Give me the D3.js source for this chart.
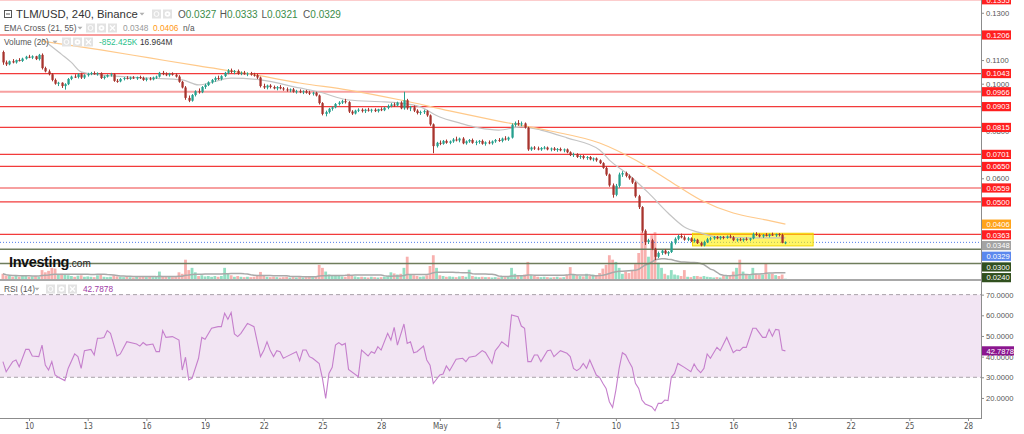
<!DOCTYPE html>
<html lang="en">
<head>
<meta charset="UTF-8" />
<title>TLM/USD, 240, Binance</title>
<script src="https://d3js.org/d3.v7.min.js"></script>
<style>
  body { margin: 0; background: #fff; }
  svg { display: block; font-family: 'Liberation Sans', Arial, sans-serif; }
</style>
</head>
<body>
<svg id="chart" width="1024" height="434"></svg>
<script>
// ---- data ----
const startTime = Date.UTC(2021, 3, 8, 16);   // first 4h bar
const barHours = 4;

// [open, high, low, close]
const candles = [
  [.1134,.1140,.1080,.1090],[.1090,.1098,.1075,.1082],[.1082,.1098,.1078,.1095],[.1095,.1104,.1086,.1090],
  [.1090,.1102,.1085,.1100],[.1100,.1108,.1094,.1096],[.1096,.1110,.1092,.1106],[.1106,.1118,.1102,.1114],
  [.1114,.1122,.1108,.1110],[.1110,.1120,.1104,.1116],[.1116,.1118,.1100,.1104],[.1104,.1126,.1098,.1122],
  [.1122,.1128,.1060,.1066],[.1066,.1072,.1048,.1052],[.1052,.1060,.1035,.1040],[.1040,.1045,.1010,.1016],
  [.1016,.1022,.0996,.1000],[.1000,.1008,.0990,.1004],[.1004,.1006,.0982,.0990],[.0990,.1002,.0975,.0998],
  [.0998,.1024,.0994,.1020],[.1020,.1034,.1015,.1030],[.1030,.1040,.1024,.1028],[.1028,.1044,.1022,.1040],
  [.1040,.1046,.1020,.1026],[.1026,.1040,.1020,.1036],[.1036,.1046,.1030,.1042],[.1042,.1050,.1036,.1045],
  [.1045,.1052,.1038,.1040],[.1040,.1048,.1034,.1044],[.1044,.1048,.1020,.1024],[.1024,.1034,.1018,.1030],
  [.1030,.1040,.1026,.1036],[.1036,.1046,.1030,.1040],[.1040,.1044,.1008,.1012],[.1012,.1020,.1004,.1010],
  [.1010,.1024,.1006,.1020],[.1020,.1028,.1014,.1024],[.1024,.1032,.1018,.1020],[.1020,.1030,.1016,.1026],
  [.1026,.1032,.1020,.1022],[.1022,.1030,.1016,.1028],[.1028,.1034,.1020,.1024],[.1024,.1030,.1012,.1016],
  [.1016,.1026,.1010,.1022],[.1022,.1028,.1014,.1018],[.1018,.1030,.1014,.1026],[.1026,.1034,.1020,.1030],
  [.1030,.1050,.1026,.1046],[.1046,.1054,.1036,.1040],[.1040,.1048,.1032,.1036],[.1036,.1046,.1030,.1042],
  [.1042,.1048,.1034,.1038],[.1038,.1044,.1026,.1030],[.1030,.1036,.1004,.1008],[.1008,.1012,.0980,.0984],
  [.0984,.0990,.0932,.0940],[.0940,.0950,.0922,.0928],[.0928,.0956,.0924,.0952],[.0952,.0972,.0946,.0968],
  [.0968,.0980,.0958,.0964],[.0964,.0990,.0960,.0986],[.0986,.1000,.0978,.0994],[.0994,.1010,.0990,.1006],
  [.1006,.1020,.1000,.1016],[.1016,.1030,.1008,.1024],[.1024,.1034,.1016,.1020],[.1020,.1036,.1014,.1032],
  [.1032,.1050,.1028,.1046],[.1046,.1062,.1040,.1056],[.1056,.1064,.1044,.1050],[.1050,.1058,.1040,.1054],
  [.1054,.1060,.1038,.1042],[.1042,.1052,.1036,.1046],[.1046,.1054,.1038,.1040],[.1040,.1048,.1032,.1044],
  [.1044,.1050,.1034,.1038],[.1038,.1046,.1030,.1036],[.1036,.1042,.1020,.1026],[.1026,.1030,.0984,.0990],
  [.0990,.1000,.0978,.0984],[.0984,.0996,.0976,.0992],[.0992,.0998,.0980,.0986],[.0986,.0992,.0976,.0980],
  [.0980,.0990,.0972,.0986],[.0986,.0994,.0976,.0980],[.0980,.0986,.0970,.0976],[.0976,.0984,.0966,.0972],
  [.0972,.0980,.0964,.0976],[.0976,.0982,.0962,.0966],[.0966,.0974,.0958,.0968],[.0968,.0976,.0960,.0964],
  [.0964,.0972,.0956,.0968],[.0968,.0974,.0958,.0962],[.0962,.0970,.0952,.0958],[.0958,.0966,.0950,.0962],
  [.0962,.0966,.0946,.0950],[.0950,.0954,.0912,.0918],[.0918,.0922,.0866,.0872],[.0872,.0886,.0862,.0880],
  [.0880,.0898,.0874,.0894],[.0894,.0904,.0886,.0900],[.0900,.0918,.0896,.0914],[.0914,.0926,.0908,.0920],
  [.0920,.0932,.0914,.0926],[.0926,.0936,.0916,.0922],[.0922,.0926,.0876,.0882],[.0882,.0888,.0868,.0874],
  [.0874,.0890,.0870,.0886],[.0886,.0896,.0880,.0890],[.0890,.0896,.0878,.0884],[.0884,.0894,.0876,.0890],
  [.0890,.0898,.0882,.0886],[.0886,.0894,.0878,.0890],[.0890,.0896,.0880,.0884],[.0884,.0894,.0878,.0892],
  [.0892,.0900,.0884,.0888],[.0888,.0902,.0884,.0898],[.0898,.0912,.0892,.0906],[.0906,.0918,.0900,.0912],
  [.0912,.0920,.0902,.0908],[.0908,.0924,.0904,.0920],[.0920,.0926,.0892,.0896],[.0896,.0966,.0890,.0930],
  [.0930,.0936,.0890,.0896],[.0896,.0906,.0884,.0900],[.0900,.0908,.0880,.0886],[.0886,.0892,.0870,.0876],
  [.0876,.0886,.0868,.0880],[.0880,.0890,.0872,.0884],[.0884,.0888,.0860,.0866],[.0866,.0870,.0822,.0828],
  [.0828,.0832,.0706,.0736],[.0736,.0754,.0730,.0750],[.0750,.0760,.0740,.0746],[.0746,.0762,.0742,.0758],
  [.0758,.0764,.0746,.0750],[.0750,.0760,.0744,.0756],[.0756,.0770,.0750,.0764],[.0764,.0776,.0756,.0760],
  [.0760,.0772,.0752,.0768],[.0768,.0774,.0744,.0748],[.0748,.0760,.0742,.0756],[.0756,.0766,.0750,.0762],
  [.0762,.0768,.0746,.0750],[.0750,.0760,.0740,.0754],[.0754,.0762,.0746,.0758],[.0758,.0764,.0742,.0746],
  [.0746,.0756,.0738,.0752],[.0752,.0760,.0744,.0748],[.0748,.0760,.0742,.0756],[.0756,.0766,.0750,.0762],
  [.0762,.0770,.0754,.0758],[.0758,.0772,.0752,.0768],[.0768,.0778,.0760,.0764],[.0764,.0776,.0758,.0772],
  [.0772,.0832,.0768,.0826],[.0826,.0840,.0818,.0834],[.0834,.0846,.0822,.0828],[.0828,.0840,.0820,.0832],
  [.0832,.0836,.0810,.0814],[.0814,.0818,.0716,.0722],[.0722,.0734,.0716,.0730],[.0730,.0736,.0720,.0726],
  [.0726,.0734,.0718,.0722],[.0722,.0732,.0716,.0728],[.0728,.0736,.0722,.0730],[.0730,.0734,.0718,.0722],
  [.0722,.0730,.0714,.0726],[.0726,.0732,.0716,.0720],[.0720,.0728,.0712,.0724],[.0724,.0730,.0714,.0718],
  [.0718,.0726,.0710,.0722],[.0722,.0726,.0706,.0710],[.0710,.0714,.0694,.0698],[.0698,.0708,.0690,.0702],
  [.0702,.0706,.0686,.0690],[.0690,.0698,.0682,.0694],[.0694,.0698,.0680,.0686],[.0686,.0694,.0678,.0690],
  [.0690,.0694,.0676,.0680],[.0680,.0688,.0672,.0684],[.0684,.0688,.0670,.0676],[.0676,.0680,.0660,.0664],
  [.0664,.0668,.0640,.0644],[.0644,.0650,.0610,.0616],[.0616,.0620,.0564,.0570],[.0570,.0578,.0518,.0530],
  [.0530,.0576,.0524,.0568],[.0568,.0624,.0560,.0616],[.0616,.0630,.0606,.0622],[.0622,.0628,.0604,.0610],
  [.0610,.0616,.0594,.0600],[.0600,.0604,.0576,.0582],[.0582,.0586,.0518,.0524],[.0524,.0530,.0470,.0478],
  [.0478,.0482,.0370,.0378],[.0378,.0384,.0318,.0330],[.0330,.0344,.0322,.0338],[.0338,.0344,.0296,.0302],
  [.0302,.0306,.0254,.0268],[.0268,.0290,.0262,.0284],[.0284,.0298,.0276,.0294],[.0294,.0300,.0278,.0282],
  [.0282,.0292,.0272,.0288],[.0288,.0334,.0284,.0326],[.0326,.0350,.0320,.0344],[.0344,.0362,.0338,.0356],
  [.0356,.0366,.0346,.0350],[.0350,.0358,.0336,.0340],[.0340,.0352,.0334,.0346],[.0346,.0350,.0330,.0334],
  [.0334,.0346,.0328,.0340],[.0340,.0344,.0322,.0326],[.0326,.0332,.0312,.0316],[.0316,.0336,.0312,.0330],
  [.0330,.0348,.0326,.0342],[.0342,.0352,.0336,.0346],[.0346,.0356,.0340,.0352],[.0352,.0356,.0342,.0346],
  [.0346,.0356,.0340,.0352],[.0352,.0356,.0342,.0348],[.0348,.0358,.0344,.0354],[.0354,.0362,.0346,.0350],
  [.0350,.0356,.0334,.0338],[.0338,.0346,.0332,.0342],[.0342,.0348,.0334,.0338],[.0338,.0346,.0332,.0344],
  [.0344,.0350,.0336,.0340],[.0340,.0348,.0334,.0346],[.0346,.0370,.0342,.0364],[.0364,.0372,.0356,.0360],
  [.0360,.0366,.0350,.0354],[.0354,.0364,.0348,.0360],[.0360,.0368,.0354,.0356],[.0356,.0366,.0350,.0362],
  [.0362,.0370,.0356,.0358],[.0358,.0366,.0352,.0364],[.0364,.0368,.0354,.0360],[.0360,.0366,.0325,.0327],
  [.0327,.0333,.0321,.0329]
];

// volume per bar, millions
const volumes = [
  14,9,8,6,9,6,8,10,6,7,8,6,24,
  18,22,30,28,12,14,12,10,8,6,9,
  10,6,7,6,5,10,12,6,5,6,10,7,6,
  5,6,5,4,6,5,8,5,6,5,6,20,
  8,6,6,5,8,18,14,52,24,30,18,8,
  10,7,8,6,8,6,8,30,16,10,6,8,
  6,5,6,5,6,8,19,10,6,5,6,5,4,5,6,4,5,4,
  5,4,5,6,5,8,38,30,20,12,8,
  10,8,7,6,14,9,7,5,6,5,4,6,5,4,5,
  6,8,18,15,12,14,30,60,12,10,8,6,7,
  10,35,64,30,10,8,6,7,6,5,7,8,6,25,8,6,5,6,5,5,
  4,5,4,6,5,8,30,14,10,8,12,46,
  10,8,6,5,6,5,4,5,6,4,5,12,32,12,10,8,7,14,8,12,9,16,
  28,38,64,52,46,30,14,20,16,22,40,70,128,124,60,118,126,44,30,14,10,
  24,12,10,8,24,6,5,8,8,6,8,6,5,4,5,4,8,8,10,20,30,52,20,12,10,30,14,12,12,42,14,14,10.43,8,12,0.852425
];
const volumeMaLength = 20;

// EMA lines: [bar index, price]
const ema21Points = [
  [12,.1190],[14,.1168],[18,.1124],[21,.1090],[24,.1050],[30,.1037],[45,.1024],[55,.1016],[60,.0995],
  [70,.1024],[79,.1016],[91,.0982],[97,.0965],[106,.0931],[117,.0923],[122,.0918],[128,.0902],
  [134,.0859],[140,.0834],[146,.0813],[152,.0804],[159,.0817],[165,.0804],[173,.0771],[183,.0720],
  [186,.0677],[192,.0614],[198,.0538],[204,.0453],[209,.0394],[214,.0369],[219,.0352],[229,.0348],[240,.0348]
];
const ema55Points = [
  [12,.1180],[14,.1176],[30,.1143],[45,.1109],[60,.1075],[76,.1041],[91,.1003],[106,.0973],[122,.0931],
  [137,.0885],[152,.0842],[168,.0800],[183,.0749],[194,.0677],[204,.0593],[214,.0508],[224,.0453],
  [234,.0424],[240,.0406]
];

// RSI(14): [bar index, value]
const rsiPoints = [
  [0,37.6],[1,32.7],[3,37.6],[4,38.4],[5,35.1],[7,43.5],[8,43.5],[9,40.3],[11,40],[12,45.6],[13,35.9],
  [14,33.5],[15,37.6],[16,31.1],[17,30],[19,28.4],[20,34.3],[22,41.3],[23,40],[24,34.3],[25,42.9],
  [27,43.5],[28,40.8],[29,48.9],[30,48.9],[31,49.3],[32,52.6],[33,51.3],[35,40.3],[36,41.3],[38,47.2],
  [41,46.1],[42,45.1],[43,46.8],[44,45.6],[46,46.1],[47,42.4],[48,42.4],[49,52.6],[50,49.3],[52,49.7],
  [54,48],[55,33.5],[56,39.7],[57,28.7],[58,29.5],[60,39.2],[61,49.3],[62,48.4],[64,53.7],[66,54.5],
  [67,54.5],[68,61],[69,58.1],[70,61.3],[71,51],[72,49.7],[73,51.3],[75,56.1],[76,55.3],[77,54.5],
  [79,40],[80,42.9],[81,47.2],[82,42.9],[83,40],[84,42.9],[85,42.4],[86,39.2],[87,40],[90,42.4],[91,38],
  [92,43.2],[93,43.2],[94,40],[95,39.2],[97,36.7],[98,29.5],[99,19.8],[100,31.9],[101,34.8],[102,45.6],
  [103,46.8],[104,45.6],[105,46.4],[106,33.8],[109,30.3],[110,43.2],[112,40.3],[113,42.4],[114,41.6],
  [115,44.8],[116,43.2],[118,51.3],[119,48],[120,54.2],[121,45.6],[123,55.8],[124,46.4],[125,47.2],
  [126,41.9],[127,42.4],[129,45.1],[130,38.4],[131,35.9],[132,27],[134,31.1],[135,31.6],[136,35.5],
  [137,33.2],[139,38.7],[141,39.2],[142,37.6],[143,39.7],[145,40.3],[147,42.9],[148,42],[150,36.7],
  [151,42.9],[152,44.8],[153,47.2],[155,44.8],[156,60.2],[158,59.3],[159,54.8],[160,53.7],[161,37.6],
  [162,37.6],[163,40.8],[164,40.8],[165,37.6],[167,42.9],[168,43.2],[169,40],[171,42.9],[173,41.6],
  [174,40],[175,34.3],[176,33.2],[177,34.3],[178,36.7],[179,34.3],[180,38.4],[182,31.1],[183,30],
  [184,27.1],[185,24.6],[186,18.2],[187,15.4],[188,23.8],[189,34.3],[190,41.9],[191,40.8],[192,37.6],
  [193,34.8],[194,27.1],[195,24.6],[196,19],[197,17.1],[199,15.8],[200,13.8],[201,17.4],[202,17.4],
  [203,19],[204,18.7],[205,30],[206,31.9],[207,36.7],[209,34.8],[211,32.7],[212,36.4],[213,33.8],
  [214,32.2],[215,34.3],[216,41.3],[217,39.2],[219,44.5],[220,42.9],[222,49.3],[224,41.9],[225,43.2],
  [226,42.9],[227,44.5],[228,44.5],[230,53.7],[231,53.7],[233,49.3],[234,49.3],[235,53.2],[236,49.9],
  [237,53.2],[238,52.9],[239,43.2],[240,42.7878]
];

// horizontal levels
const redLevels = [0.1355, 0.1206, 0.1043, 0.0966, 0.0903, 0.0815, 0.0701, 0.0650, 0.0559, 0.0500, 0.0363];
const softLevels = [0.0966, 0.0559];
const supportLevels = [0.0300, 0.0240];
const ema21Last = 0.0348;
const ema55Last = 0.0406;

// consolidation box
const zoneTimes = [Date.UTC(2021, 4, 13, 22), Date.UTC(2021, 4, 20, 2)];
const zonePrices = [0.03675, 0.0314];

// price ticks that are not covered by the level tags
const priceTicks = [0.13, 0.11, 0.10, 0.08, 0.06];
const rsiTicks = [70, 60, 50, 40, 30, 20];
const rsiBand = [70, 30];

// ---- layout ----
const plotRight = 981;
const priceBottom = 279;
const rsiTop = 281, rsiBottom = 418;
const upColor = "#26a08e", downColor = "#a8342e";
const upVol = "#93dfc3", downVol = "#f8b0ae";

const svg = d3.select("#chart");
const lastClose = candles[candles.length - 1][3];
const barTime = i => new Date(startTime + i * barHours * 3600e3);

const x = d3.scaleUtc()
  .domain([new Date(Date.UTC(2021, 3, 10)), new Date(Date.UTC(2021, 4, 28))])
  .range([29, 968]);
const y = d3.scaleLinear().domain([0.0174, 0.1354]).range([priceBottom, 0]);
const yVol = d3.scaleLinear().domain([0, 140]).range([priceBottom, 227]);
const yRsi = d3.scaleLinear().domain([10.3, 76.6]).range([rsiBottom, rsiTop]);

const defs = svg.append("defs");
defs.append("clipPath").attr("id", "clipPrice")
  .append("rect").attr("x", 0).attr("y", 0).attr("width", plotRight).attr("height", priceBottom);
defs.append("clipPath").attr("id", "clipRsi")
  .append("rect").attr("x", 0).attr("y", rsiTop).attr("width", plotRight).attr("height", rsiBottom - rsiTop);

const price = svg.append("g").attr("clip-path", "url(#clipPrice)");

// volume bars
price.append("g").selectAll("rect")
  .data(volumes)
  .join("rect")
  .attr("x", (d, i) => x(barTime(i)) - 1.4)
  .attr("width", 2.8)
  .attr("y", d => yVol(d))
  .attr("height", d => priceBottom - yVol(d))
  .attr("fill", (d, i) => candles[i][3] >= candles[i][0] ? upVol : downVol);

// volume moving average
const volMa = volumes.map((d, i) => {
  const from = Math.max(0, i - volumeMaLength + 1);
  return d3.mean(volumes.slice(from, i + 1));
});
price.append("path")
  .datum(volMa)
  .attr("fill", "none")
  .attr("stroke", "#a9a9a9")
  .attr("stroke-width", 1.5)
  .attr("d", d3.line().x((d, i) => x(barTime(i))).y(d => yVol(d)));

// levels
price.append("g").selectAll("line")
  .data(redLevels)
  .join("line")
  .attr("x1", 0).attr("x2", plotRight)
  .attr("y1", d => y(d)).attr("y2", d => y(d))
  .attr("stroke", d => softLevels.includes(d) ? "#f7a0a0" : "#f23b3b")
  .attr("stroke-width", d => softLevels.includes(d) ? 2 : 1.2);

price.append("g").selectAll("line")
  .data(supportLevels)
  .join("line")
  .attr("x1", 0).attr("x2", plotRight)
  .attr("y1", d => y(d)).attr("y2", d => y(d))
  .attr("stroke", "#6f7d5c")
  .attr("stroke-width", 1.5);

price.append("line")
  .attr("x1", 0).attr("x2", plotRight)
  .attr("y1", y(lastClose)).attr("y2", y(lastClose))
  .attr("stroke", "#4f7be8")
  .attr("stroke-dasharray", "1,2");

// yellow zone
price.append("rect")
  .attr("x", x(new Date(zoneTimes[0])))
  .attr("width", x(new Date(zoneTimes[1])) - x(new Date(zoneTimes[0])))
  .attr("y", y(zonePrices[0]))
  .attr("height", y(zonePrices[1]) - y(zonePrices[0]))
  .attr("fill", "rgba(255,240,0,0.6)")
  .attr("stroke", "#f2d600")
  .attr("stroke-width", 1);

// EMA lines
const emaLine = d3.line().x(d => x(barTime(d[0]))).y(d => y(d[1])).curve(d3.curveMonotoneX);
price.append("path").datum(ema21Points)
  .attr("fill", "none").attr("stroke", "#c4c4c4").attr("stroke-width", 1.2).attr("d", emaLine);
price.append("path").datum(ema55Points)
  .attr("fill", "none").attr("stroke", "#ffc98a").attr("stroke-width", 1.2).attr("d", emaLine);

// candles
const bars = price.append("g").selectAll("g")
  .data(candles)
  .join("g");
bars.append("line")
  .attr("x1", (d, i) => Math.round(x(barTime(i))) + 0.5)
  .attr("x2", (d, i) => Math.round(x(barTime(i))) + 0.5)
  .attr("y1", d => y(d[1]))
  .attr("y2", d => y(d[2]))
  .attr("stroke", d => d[3] >= d[0] ? upColor : downColor)
  .attr("stroke-width", 1);
bars.append("rect")
  .attr("x", (d, i) => Math.round(x(barTime(i))) - 0.6)
  .attr("width", 2.3)
  .attr("y", d => y(Math.max(d[0], d[3])))
  .attr("height", d => Math.max(1, Math.abs(y(d[0]) - y(d[3]))))
  .attr("fill", d => d[3] >= d[0] ? upColor : downColor);

// investing.com mark
const logo = svg.append("text").attr("x", 9).attr("y", 267);
logo.append("tspan").text("Investing")
  .attr("font-size", 14.5).attr("font-weight", "bold").attr("fill", "#111").attr("letter-spacing", -0.4);
logo.append("tspan").text(".com").attr("font-size", 10).attr("fill", "#222");

// pane separator
svg.append("line").attr("x1", 0).attr("x2", plotRight).attr("y1", 280).attr("y2", 280)
  .attr("stroke", "#a8a8a8").attr("stroke-width", 2);

// ---- RSI pane ----
const rsi = svg.append("g").attr("clip-path", "url(#clipRsi)");
rsi.append("rect")
  .attr("x", 0).attr("width", plotRight)
  .attr("y", yRsi(rsiBand[0])).attr("height", yRsi(rsiBand[1]) - yRsi(rsiBand[0]))
  .attr("fill", "#f2e5f3");
rsi.append("g").selectAll("line")
  .data(rsiBand)
  .join("line")
  .attr("x1", 0).attr("x2", plotRight)
  .attr("y1", d => yRsi(d)).attr("y2", d => yRsi(d))
  .attr("stroke", "#a9a2a9")
  .attr("stroke-dasharray", "4,3");
rsi.append("path").datum(rsiPoints)
  .attr("fill", "none").attr("stroke", "#c57fcc").attr("stroke-width", 1.1)
  .attr("d", d3.line().x(d => x(barTime(d[0]))).y(d => yRsi(d[1])));

// ---- axes ----
svg.append("line").attr("x1", plotRight + 0.5).attr("x2", plotRight + 0.5).attr("y1", 0).attr("y2", rsiBottom)
  .attr("stroke", "#8c8c8c");
svg.append("line").attr("x1", 0).attr("x2", plotRight + 1).attr("y1", rsiBottom + 0.5).attr("y2", rsiBottom + 0.5)
  .attr("stroke", "#8c8c8c");

function styleAxis(g) {
  g.select(".domain").remove();
  g.selectAll(".tick line").attr("stroke", "#8c8c8c");
  g.selectAll(".tick text").attr("fill", "#555").attr("font-family", "'Liberation Sans', Arial, sans-serif");
}

svg.append("g")
  .attr("transform", `translate(${plotRight},0)`)
  .call(d3.axisRight(y).tickValues(priceTicks).tickFormat(d3.format(".4f")).tickSize(3).tickPadding(2))
  .call(styleAxis)
  .selectAll("text").attr("font-size", 7.6);

svg.append("g")
  .attr("transform", `translate(${plotRight},0)`)
  .call(d3.axisRight(yRsi).tickValues(rsiTicks).tickFormat(d3.format(".4f")).tickSize(3).tickPadding(2))
  .call(styleAxis)
  .selectAll("text").attr("font-size", 7.6);

const dayTicks = d3.utcDay.every(3).range(new Date(Date.UTC(2021, 3, 9)), new Date(Date.UTC(2021, 4, 29)));
svg.append("g")
  .attr("transform", `translate(0,${rsiBottom})`)
  .call(d3.axisBottom(x).tickValues(dayTicks).tickSize(3).tickPadding(2)
    .tickFormat(d => d.getUTCDate() === 1 ? d3.utcFormat("%b")(d) : d3.utcFormat("%-d")(d)))
  .call(styleAxis)
  .selectAll("text").attr("font-size", 8).attr("font-family", "'Liberation Sans Narrow', 'DejaVu Sans Condensed', sans-serif");

// price tags on the right scale
const tags = [
  ...redLevels.map(v => ({ v, fill: "#ff1f1f" })),
  { v: ema55Last, fill: "#ffa31a" },
  { v: ema21Last, fill: "#a3a3a3" },
  { v: lastClose, fill: "#5b88ee" },
  ...supportLevels.map(v => ({ v, fill: "#31501f" }))
];
tags.forEach(t => t.y = y(t.v));
tags.sort((a, b) => a.y - b.y);
let prevY = -Infinity;
tags.forEach(t => { if (t.y < prevY + 10.7) t.y = prevY + 10.7; prevY = t.y; });

const tagG = svg.append("g").selectAll("g").data(tags).join("g")
  .attr("transform", d => `translate(${plotRight + 1},${d.y})`);
tagG.append("rect").attr("x", 0).attr("y", -4.6).attr("width", 29).attr("height", 9.2).attr("fill", d => d.fill);
tagG.append("text").attr("x", 4.5).attr("y", 2.8).attr("font-size", 7.6).attr("fill", "#fff")
  .text(d => d3.format(".4f")(d.v));

const rsiLast = rsiPoints[rsiPoints.length - 1][1];
const rsiTag = svg.append("g").attr("transform", `translate(${plotRight + 1},${yRsi(rsiLast)})`);
rsiTag.append("rect").attr("x", 0).attr("y", -4.6).attr("width", 32).attr("height", 9.2).attr("fill", "#8b168f");
rsiTag.append("text").attr("x", 4.5).attr("y", 2.8).attr("font-size", 7.6).attr("fill", "#fff")
  .text(d3.format(".4f")(rsiLast));

// ---- legends ----
function icons(g, x0, yc, n) {
  for (let k = 0; k < n; k++) {
    const bx = x0 + k * 11;
    g.append("rect").attr("x", bx).attr("y", yc - 4.5).attr("width", 9).attr("height", 9).attr("fill", "#e3e3e3");
    if (k === 0) {
      g.append("circle").attr("cx", bx + 4.5).attr("cy", yc).attr("r", 2.4).attr("fill", "none").attr("stroke", "#fff");
    } else if (k === 1) {
      g.append("circle").attr("cx", bx + 4.5).attr("cy", yc).attr("r", 2.8).attr("fill", "#fff");
      g.append("circle").attr("cx", bx + 4.5).attr("cy", yc).attr("r", 1.1).attr("fill", "#e3e3e3");
    } else {
      g.append("path").attr("d", `M${bx + 2},${yc - 2.5}L${bx + 7},${yc + 2.5}M${bx + 7},${yc - 2.5}L${bx + 2},${yc + 2.5}`)
        .attr("stroke", "#fff").attr("stroke-width", 1.2);
    }
  }
}
function caret(g, cx, cy) {
  g.append("path").attr("d", `M${cx - 2.5},${cy - 1.2}L${cx + 2.5},${cy - 1.2}L${cx},${cy + 1.6}Z`).attr("fill", "#b0b0b0");
}

const legend = svg.append("g");
// title row
legend.append("rect").attr("x", 4.5).attr("y", 10.5).attr("width", 7).attr("height", 7)
  .attr("fill", "none").attr("stroke", "#555");
legend.append("line").attr("x1", 6).attr("x2", 10).attr("y1", 14).attr("y2", 14).attr("stroke", "#555");
legend.append("text").attr("x", 16).attr("y", 18).attr("font-size", 11.3).attr("fill", "#333")
  .text("TLM/USD, 240, Binance");
caret(legend, 142, 14);
icons(legend, 152, 14, 2);
const last = candles[candles.length - 1];
const ohlc = [["O", last[0]], ["H", last[1]], ["L", last[2]], ["C", last[3]]];
ohlc.forEach((p, k) => {
  const t = legend.append("text").attr("x", 178 + k * 41.7).attr("y", 18).attr("font-size", 10);
  t.append("tspan").attr("fill", "#555").text(p[0]);
  t.append("tspan").attr("fill", "#3b8b49").text(d3.format(".4f")(p[1]));
});

// EMA row
legend.append("text").attr("x", 4).attr("y", 31).attr("font-size", 8.3).attr("fill", "#555").text("EMA Cross (21, 55)");
caret(legend, 80, 28);
icons(legend, 86, 28, 3);
legend.append("text").attr("x", 123).attr("y", 31).attr("font-size", 8.3).attr("fill", "#9a9a9a").text(d3.format(".4f")(ema21Last));
legend.append("text").attr("x", 153).attr("y", 31).attr("font-size", 8.3).attr("fill", "#ff9a16").text(d3.format(".4f")(ema55Last));
legend.append("text").attr("x", 183).attr("y", 31).attr("font-size", 8.3).attr("fill", "#555").text("n/a");

// volume row
legend.append("text").attr("x", 4).attr("y", 45).attr("font-size", 8.3).attr("fill", "#555").text("Volume (20)");
caret(legend, 55, 42);
icons(legend, 62, 42, 3);
legend.append("text").attr("x", 99).attr("y", 45).attr("font-size", 8.3).attr("fill", "#2cc08a")
  .text("-" + d3.format(".3f")(volumes[volumes.length - 1] * 1000) + "K");
legend.append("text").attr("x", 140).attr("y", 45).attr("font-size", 8.3).attr("fill", "#333")
  .text(d3.format(".3f")(volMa[volMa.length - 1]) + "M");

// RSI row
legend.append("text").attr("x", 4).attr("y", 292).attr("font-size", 8.3).attr("fill", "#555").text("RSI (14)");
caret(legend, 37, 289);
icons(legend, 46, 289, 3);
legend.append("text").attr("x", 83).attr("y", 292).attr("font-size", 8.3).attr("fill", "#a03aa6")
  .text(d3.format(".4f")(rsiLast));
</script>
</body>
</html>
